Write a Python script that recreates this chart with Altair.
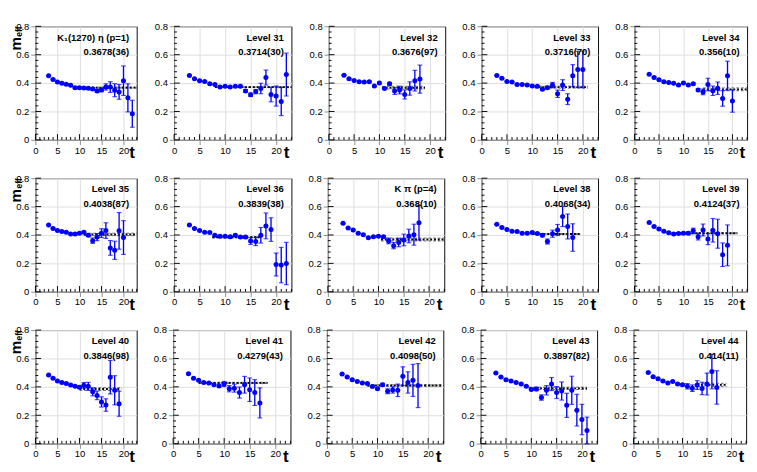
import altair as alt
import pandas as pd

T_START = 3

panel_names = ["K₁(1270) η (p=1)", "Level 31", "Level 32", "Level 33", "Level 34",
               "Level 35", "Level 36", "K π (p=4)", "Level 38", "Level 39",
               "Level 40", "Level 41", "Level 42", "Level 43", "Level 44"]
fit_texts = ["0.3678(36)", "0.3714(30)", "0.3676(97)", "0.3716(70)", "0.356(10)",
             "0.4038(87)", "0.3839(38)", "0.368(10)", "0.4068(34)", "0.4124(37)",
             "0.3846(98)", "0.4279(43)", "0.4098(50)", "0.3897(82)", "0.414(11)"]
fit_values = [0.3678, 0.3714, 0.3676, 0.3716, 0.356, 0.4038, 0.3839, 0.368, 0.4068, 0.4124,
              0.3846, 0.4279, 0.4098, 0.3897, 0.414]
fit_errors = [0.0036, 0.0030, 0.0097, 0.0070, 0.010, 0.0087, 0.0038, 0.010, 0.0034, 0.0037,
              0.0098, 0.0043, 0.0050, 0.0082, 0.011]
fit_tmin = [8.5, 8, 10.5, 10.5, 14, 11, 7.5, 10.5, 10, 7, 10, 5, 8, 9.5, 13]
fit_tmax = [23, 23, 19, 21, 23, 23, 17, 23, 19.5, 21, 19.5, 18.5, 23, 21, 19]

meff_01 = [0.452, 0.426, 0.408, 0.399, 0.392, 0.385, 0.368, 0.367, 0.365, 0.363, 0.358, 0.345, 0.352, 0.373, 0.372, 0.350, 0.338, 0.417, 0.296, 0.184]
err_01 = [0.003, 0.003, 0.003, 0.003, 0.004, 0.004, 0.005, 0.005, 0.006, 0.006, 0.008, 0.010, 0.012, 0.022, 0.038, 0.046, 0.052, 0.104, 0.099, 0.095]
meff_02 = [0.454, 0.430, 0.417, 0.412, 0.395, 0.390, 0.373, 0.377, 0.373, 0.377, 0.377, 0.344, 0.318, 0.340, 0.362, 0.439, 0.320, 0.309, 0.270, 0.460]
err_02 = [0.003, 0.003, 0.003, 0.003, 0.004, 0.004, 0.004, 0.005, 0.005, 0.006, 0.007, 0.010, 0.012, 0.015, 0.037, 0.053, 0.052, 0.071, 0.099, 0.151]
meff_03 = [0.456, 0.430, 0.419, 0.410, 0.408, 0.410, 0.379, 0.401, 0.362, 0.395, 0.344, 0.351, 0.320, 0.362, 0.417, 0.428]
err_03 = [0.003, 0.003, 0.003, 0.004, 0.004, 0.005, 0.005, 0.006, 0.007, 0.010, 0.024, 0.027, 0.032, 0.047, 0.073, 0.099]
meff_04 = [0.454, 0.434, 0.412, 0.408, 0.390, 0.390, 0.386, 0.379, 0.377, 0.357, 0.368, 0.386, 0.325, 0.386, 0.287, 0.452, 0.496, 0.496]
err_04 = [0.003, 0.003, 0.003, 0.003, 0.004, 0.004, 0.005, 0.005, 0.006, 0.007, 0.009, 0.019, 0.026, 0.038, 0.038, 0.078, 0.128, 0.129]
meff_05 = [0.463, 0.439, 0.423, 0.410, 0.404, 0.399, 0.386, 0.401, 0.386, 0.395, 0.351, 0.338, 0.390, 0.346, 0.364, 0.292, 0.452, 0.274]
err_05 = [0.003, 0.003, 0.003, 0.003, 0.004, 0.004, 0.005, 0.005, 0.006, 0.007, 0.009, 0.020, 0.044, 0.033, 0.044, 0.055, 0.102, 0.079]
meff_06 = [0.471, 0.446, 0.431, 0.424, 0.420, 0.407, 0.407, 0.413, 0.420, 0.398, 0.360, 0.385, 0.413, 0.431, 0.309, 0.292, 0.429, 0.382]
err_06 = [0.003, 0.003, 0.003, 0.003, 0.004, 0.004, 0.005, 0.005, 0.006, 0.008, 0.019, 0.025, 0.031, 0.055, 0.052, 0.064, 0.129, 0.119]
meff_07 = [0.471, 0.446, 0.431, 0.420, 0.418, 0.398, 0.391, 0.391, 0.387, 0.398, 0.385, 0.385, 0.358, 0.354, 0.398, 0.464, 0.438, 0.192, 0.188, 0.199]
err_07 = [0.003, 0.003, 0.003, 0.003, 0.004, 0.004, 0.004, 0.005, 0.005, 0.006, 0.008, 0.010, 0.024, 0.029, 0.055, 0.091, 0.083, 0.081, 0.125, 0.149]
meff_08 = [0.482, 0.449, 0.435, 0.413, 0.402, 0.380, 0.387, 0.391, 0.387, 0.358, 0.325, 0.347, 0.365, 0.393, 0.402, 0.486]
err_08 = [0.003, 0.003, 0.003, 0.003, 0.004, 0.004, 0.005, 0.005, 0.008, 0.020, 0.022, 0.030, 0.041, 0.048, 0.074, 0.122]
meff_09 = [0.475, 0.453, 0.438, 0.427, 0.424, 0.413, 0.413, 0.418, 0.411, 0.398, 0.354, 0.409, 0.435, 0.530, 0.460, 0.382]
err_09 = [0.003, 0.003, 0.003, 0.003, 0.004, 0.004, 0.005, 0.005, 0.006, 0.010, 0.018, 0.025, 0.039, 0.071, 0.088, 0.097]
meff_10 = [0.488, 0.460, 0.442, 0.427, 0.415, 0.407, 0.411, 0.413, 0.413, 0.429, 0.387, 0.435, 0.371, 0.433, 0.409, 0.261, 0.327]
err_10 = [0.003, 0.003, 0.003, 0.003, 0.004, 0.004, 0.005, 0.006, 0.010, 0.019, 0.022, 0.042, 0.039, 0.083, 0.102, 0.083, 0.144]
meff_11 = [0.484, 0.460, 0.442, 0.431, 0.424, 0.413, 0.404, 0.398, 0.411, 0.404, 0.365, 0.340, 0.294, 0.272, 0.468, 0.376, 0.281]
err_11 = [0.003, 0.003, 0.003, 0.003, 0.004, 0.004, 0.005, 0.008, 0.020, 0.028, 0.028, 0.030, 0.036, 0.044, 0.118, 0.103, 0.088]
meff_12 = [0.493, 0.460, 0.446, 0.431, 0.427, 0.415, 0.407, 0.420, 0.387, 0.391, 0.360, 0.415, 0.380, 0.360, 0.287]
err_12 = [0.003, 0.003, 0.003, 0.004, 0.004, 0.005, 0.006, 0.018, 0.022, 0.028, 0.039, 0.059, 0.083, 0.091, 0.106]
meff_13 = [0.491, 0.469, 0.451, 0.438, 0.427, 0.424, 0.402, 0.387, 0.415, 0.369, 0.378, 0.376, 0.475, 0.431, 0.446, 0.409]
err_13 = [0.003, 0.003, 0.003, 0.003, 0.004, 0.004, 0.005, 0.006, 0.010, 0.017, 0.022, 0.044, 0.066, 0.075, 0.113, 0.155]
meff_14 = [0.497, 0.469, 0.451, 0.442, 0.431, 0.420, 0.404, 0.382, 0.385, 0.325, 0.376, 0.420, 0.360, 0.371, 0.270, 0.376, 0.236, 0.170, 0.093]
err_14 = [0.003, 0.003, 0.003, 0.003, 0.004, 0.004, 0.005, 0.006, 0.012, 0.019, 0.033, 0.046, 0.042, 0.064, 0.085, 0.099, 0.112, 0.107, 0.094]
meff_15 = [0.502, 0.471, 0.457, 0.442, 0.427, 0.438, 0.420, 0.415, 0.404, 0.391, 0.413, 0.389, 0.420, 0.508, 0.396]
err_15 = [0.003, 0.003, 0.003, 0.004, 0.004, 0.005, 0.006, 0.008, 0.019, 0.023, 0.031, 0.044, 0.077, 0.122, 0.118]

meff_lists = [meff_01, meff_02, meff_03, meff_04, meff_05, meff_06, meff_07, meff_08,
              meff_09, meff_10, meff_11, meff_12, meff_13, meff_14, meff_15]
err_lists = [err_01, err_02, err_03, err_04, err_05, err_06, err_07, err_08,
             err_09, err_10, err_11, err_12, err_13, err_14, err_15]

x_tick_labels = [0, 5, 10, 15, 20]
y_tick_labels = [0, 0.2, 0.4, 0.6, 0.8]
x_minor = [v for v in range(0, 24) if v % 5 != 0]
y_minor = [round(0.04 * k, 2) for k in range(21) if k % 5 != 0]

col_widths = [107, 124, 123, 123, 119]
H = 120
FONT = "Liberation Sans"
BLUE = "#0000ff"

xs = alt.Scale(domain=[0, 23], nice=False, zero=False)
ys = alt.Scale(domain=[0, 0.8], nice=False)
x_axis = alt.Axis(values=x_tick_labels, title=None, labelFlush=False, labelOverlap=False,
                  labelPadding=1, grid=True)
y_axis = alt.Axis(values=y_tick_labels, title=None, labelFlush=False, labelOverlap=False,
                  labelPadding=2, format="~g", grid=True)


def X(f):
    return alt.X(f, type="quantitative", scale=xs, axis=x_axis, title=None)


def Y(f):
    return alt.Y(f, type="quantitative", scale=ys, axis=y_axis, title=None)


def make_panel(i):
    col = i % 5
    W = col_widths[col]
    m = meff_lists[i]
    e = err_lists[i]
    df = pd.DataFrame({
        "t": [T_START + k for k in range(len(m))],
        "m": m,
        "lo": [a - b for a, b in zip(m, e)],
        "hi": [a + b for a, b in zip(m, e)],
    })
    fit = pd.DataFrame({
        "t0": [fit_tmin[i]], "t1": [fit_tmax[i]], "v": [fit_values[i]],
        "lo": [fit_values[i] - fit_errors[i]], "hi": [fit_values[i] + fit_errors[i]],
    })
    base = alt.Chart(df)

    layers = []
    xt_min = alt.Chart(pd.DataFrame({"v": x_minor})).mark_rule(color="black", strokeWidth=1).encode(
        x=X("v"), y=alt.value(H), y2=alt.value(H - 3))
    xt_maj = alt.Chart(pd.DataFrame({"v": x_tick_labels})).mark_rule(color="black", strokeWidth=1).encode(
        x=X("v"), y=alt.value(H), y2=alt.value(H - 6))
    yt_min = alt.Chart(pd.DataFrame({"v": y_minor})).mark_rule(color="black", strokeWidth=1).encode(
        y=Y("v"), x=alt.value(0), x2=alt.value(3))
    yt_maj = alt.Chart(pd.DataFrame({"v": y_tick_labels})).mark_rule(color="black", strokeWidth=1).encode(
        y=Y("v"), x=alt.value(0), x2=alt.value(6))
    layers += [xt_min, xt_maj, yt_min, yt_maj]

    fc = alt.Chart(fit)
    band_lo = fc.mark_rule(color="#444444", strokeWidth=0.8, strokeDash=[3, 2]).encode(
        x=X("t0"), x2="t1", y=Y("lo"))
    band_hi = fc.mark_rule(color="#444444", strokeWidth=0.8, strokeDash=[3, 2]).encode(
        x=X("t0"), x2="t1", y=Y("hi"))
    center = fc.mark_rule(color="black", strokeWidth=2, strokeDash=[2, 2]).encode(
        x=X("t0"), x2="t1", y=Y("v"))
    layers += [band_lo, band_hi, center]

    bars = base.mark_rule(color=BLUE, strokeWidth=1.4).encode(x=X("t"), y=Y("lo"), y2="hi")
    cap_lo = base.mark_tick(color=BLUE, orient="horizontal", size=5, thickness=1.2).encode(x=X("t"), y=Y("lo"))
    cap_hi = base.mark_tick(color=BLUE, orient="horizontal", size=5, thickness=1.2).encode(x=X("t"), y=Y("hi"))
    pts = base.mark_circle(color=BLUE, size=28, opacity=1).encode(x=X("t"), y=Y("m"))
    layers += [bars, cap_lo, cap_hi, pts]

    lab = pd.DataFrame({"name": [panel_names[i]], "val": [fit_texts[i]]})
    lc = alt.Chart(lab)
    layers.append(lc.mark_text(align="right", baseline="middle", font=FONT, fontWeight="bold",
                               fontSize=10, color="black").encode(
        x=alt.value(W - 8), y=alt.value(12), text="name:N"))
    layers.append(lc.mark_text(align="right", baseline="middle", font=FONT, fontWeight="bold",
                               fontSize=10, color="black").encode(
        x=alt.value(W - 8), y=alt.value(27.5), text="val:N"))
    layers.append(lc.mark_text(align="center", baseline="alphabetic", font=FONT, fontWeight="bold",
                               fontSize=18, color="black").encode(
        x=alt.value(W - 5), y=alt.value(H + 19), text=alt.value("t")))
    if col == 0:
        layers.append(lc.mark_text(align="center", baseline="alphabetic", font=FONT, fontWeight="bold",
                                   fontSize=16, angle=270, color="black").encode(
            x=alt.value(-15.2), y=alt.value(18.5), text=alt.value("m")))
        layers.append(lc.mark_text(align="center", baseline="alphabetic", font=FONT, fontWeight="bold",
                                   fontSize=9, angle=270, color="black").encode(
            x=alt.value(-14.5), y=alt.value(5.5), text=alt.value("eff")))

    return alt.layer(*layers).properties(
        width=W, height=H, view=alt.ViewBackground(stroke="black", strokeWidth=1, fill="white"))


panels = [make_panel(i) for i in range(15)]
rows = [alt.hconcat(*panels[r * 5:(r + 1) * 5], spacing=15.5) for r in range(3)]

chart = alt.vconcat(*rows, spacing=10.5, padding=0).configure_view(
    stroke="black", strokeWidth=1
).configure_axis(
    labelFont=FONT, labelFontWeight="bold", labelFontSize=11, labelColor="black",
    ticks=False, domain=False, gridColor="#8a8a8a", gridDash=[1, 2], gridWidth=1
).configure(background="white")

chart.save("out.html", embed_options={"renderer": "svg", "actions": False})
